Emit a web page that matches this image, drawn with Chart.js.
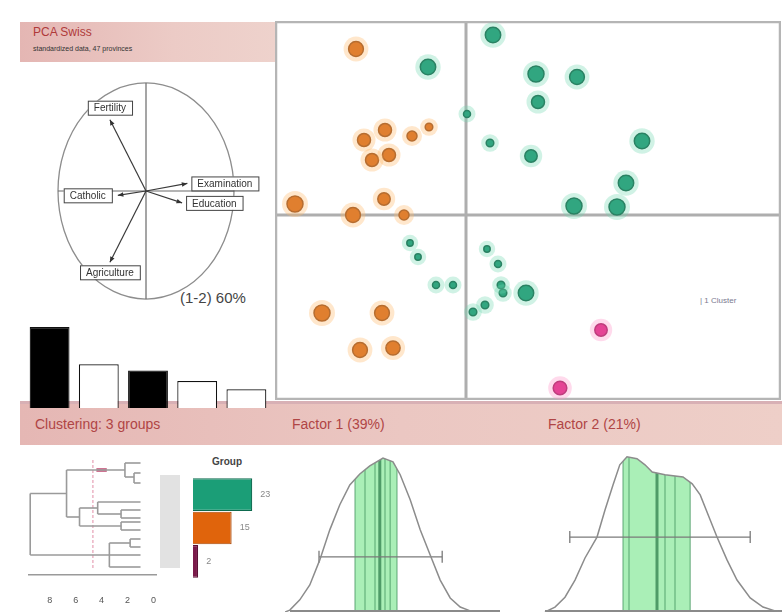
<!DOCTYPE html>
<html><head><meta charset="utf-8">
<script src="https://cdn.jsdelivr.net/npm/chart.js@4.4.1/dist/chart.umd.min.js"></script>
<style>
body{margin:0;background:#fff;width:782px;height:616px;position:relative;overflow:hidden;font-family:"Liberation Sans",Arial,sans-serif;}
canvas{position:absolute;}
.box{position:absolute;}
.t{position:absolute;white-space:nowrap;}
</style></head><body>
<div class="box" style="left:20px;top:22px;width:255px;height:40px;background:linear-gradient(to right,#e4b6b3,#eccbc6 60%,#eed2cc);"></div>
<div class="t" style="left:33px;top:25px;font-size:12px;color:#b03a3a;">PCA Swiss</div>
<div class="t" style="left:33px;top:45px;font-size:7px;color:#333;">standardized data, 47 provinces</div>
<div class="box" style="left:20px;top:401px;width:762px;height:44px;background:linear-gradient(to right,#e5b7b4,#ebc7c2 50%,#eecfc8);border-top:3px solid #d8b0b5;box-sizing:border-box;"></div>
<div class="t" style="left:35px;top:416px;font-size:14px;color:#b04545;">Clustering: 3 groups</div>
<div class="t" style="left:292px;top:416px;font-size:14px;color:#b04545;">Factor 1 (39%)</div>
<div class="t" style="left:548px;top:416px;font-size:14px;color:#b04545;">Factor 2 (21%)</div>
<div class="t" style="left:180px;top:289px;font-size:15px;color:#444;">(1-2) 60%</div>
<div class="t" style="left:212px;top:456px;font-size:10px;font-weight:bold;color:#444;">Group</div>
<div class="t" style="left:700px;top:296px;font-size:8px;color:#7a7a90;">| 1 Cluster</div>
<div class="box" style="left:160px;top:475px;width:20px;height:93px;background:#e2e2e2;"></div>

<canvas id="scatter" width="506" height="379" style="left:275px;top:21px"></canvas>
<canvas id="circle" width="264" height="242" style="left:14px;top:70px"></canvas>
<canvas id="scree" width="246" height="90" style="left:25px;top:318px"></canvas>
<canvas id="dendro" width="148" height="150" style="left:28px;top:460px"></canvas>
<canvas id="groups" width="85" height="100" style="left:193px;top:478px"></canvas>
<canvas id="dens1" width="215" height="162" style="left:285px;top:450px"></canvas>
<canvas id="dens2" width="242" height="162" style="left:540px;top:450px"></canvas>

<script>
// ---------------- DATA ----------------
const screeLabels = ['F1','F2','F3','F4','F5'];
const screeValues = [39, 21, 18, 13, 9];

const variables = ['Fertility','Catholic','Examination','Education','Agriculture'];
const loadX = [-0.41, -0.32, 0.47, 0.41, -0.41];
const loadY = [0.66, -0.04, 0.07, -0.11, -0.66];

// individuals: factor scores and representation quality (cos2)
const greenX = [0.54,-0.76,1.40,2.22,1.44,0.02,0.48,1.30,3.52,3.20,2.16,3.02,-1.12,-0.96,0.42,0.64,-0.60,-0.26,0.70,0.74,1.20,0.38,0.14];
const greenY = [3.60,2.96,2.82,2.76,2.26,2.02,1.44,1.18,1.48,0.64,0.18,0.16,-0.56,-0.84,-0.68,-0.98,-1.40,-1.40,-1.40,-1.56,-1.56,-1.80,-1.94];
const greenQ = [0.95,0.95,1.0,0.9,0.75,0.25,0.3,0.7,0.95,0.95,1.0,1.0,0.2,0.2,0.2,0.25,0.25,0.25,0.3,0.3,0.95,0.3,0.3];
const orangeX = [-2.20,-1.62,-2.04,-1.08,-0.74,-1.88,-1.54,-3.42,-2.26,-1.64,-1.24,-2.88,-1.68,-2.12,-1.46];
const orangeY = [3.32,1.70,1.50,1.58,1.76,1.10,1.20,0.22,0.00,0.32,0.00,-1.96,-1.96,-2.70,-2.66];
const orangeQ = [0.9,0.75,0.75,0.5,0.3,0.75,0.75,1.0,0.9,0.7,0.5,1.0,0.9,0.9,0.85];
const pinkX = [2.70, 1.88];
const pinkY = [-2.30, -3.46];
const pinkQ = [0.7, 0.8];

const groupNames = ['Group 1','Group 2','Group 3'];
const groupCounts = [23, 15, 2];

// dendrogram segments [height1, leaf1, height2, leaf2]
const dendroSegs = [
 [9.5,6.7,9.5,19],[9.5,6.7,6.7,6.7],[6.7,2,6.7,11.4],
 [6.7,2,2.2,2],[2.2,0.6,2.2,3.4],[2.2,0.6,1,0.6],[2.2,3.4,1.5,3.4],[1.5,2.6,1.5,4.6],[1.5,2.6,1,2.6],[1.5,4.6,1,4.6],
 [6.7,11.4,5.7,11.4],[5.7,9.6,5.7,13.2],[5.7,9.6,4.3,9.6],[4.3,8.4,4.3,10.8],[4.3,8.4,1,8.4],[4.3,10.8,2.5,10.8],
 [2.5,10,2.5,11.6],[2.5,10,1,10],[2.5,11.6,1,11.6],[5.7,13.2,2.5,13.2],[2.5,12.4,2.5,14],[2.5,12.4,1,12.4],[2.5,14,1,14],
 [9.5,19,3.4,19],[3.4,16.6,3.4,21.4],[3.4,16.6,1.8,16.6],[1.8,15.8,1.8,17.4],[1.8,15.8,1,15.8],[1.8,17.4,1,17.4],
 [3.4,21.4,1,21.4],[3.4,19,1,19]
];
const cutHeight = 4.67;

// kernel densities of factor scores
const dens1X = [-2.45,-2.33,-2.08,-1.83,-1.58,-1.33,-1.08,-0.83,-0.58,-0.33,0,0.25,0.43,0.68,0.93,1.18,1.43,1.68,1.93,2.18,2.93];
const dens1Y = [0,0.005,0.032,0.071,0.137,0.216,0.282,0.334,0.363,0.384,0.405,0.395,0.361,0.295,0.216,0.150,0.084,0.037,0.013,0.003,0];
const band1 = [-0.70, 0.35];
const rug1 = [-0.70,-0.45,-0.20,0.05,0.18,0.35];
const mean1 = -0.08;
const interval1 = [-1.60, 1.48];
const intervalLevel1 = 0.145;

const dens2X = [-2.05,-1.8,-1.55,-1.3,-1.05,-0.75,-0.55,-0.35,-0.18,0,0.25,0.45,0.63,0.95,1.4,1.63,1.83,2.08,2.25,2.5,2.75,3.08,3.4,3.7,3.83];
const dens2Y = [0,0.013,0.039,0.084,0.142,0.197,0.268,0.334,0.387,0.408,0.403,0.387,0.368,0.361,0.355,0.337,0.308,0.242,0.197,0.137,0.084,0.037,0.013,0.003,0];
const band2 = [-0.10, 1.58];
const rug2 = [-0.10,0.05,0.95,1.2,1.58];
const mean2 = 0.75;
const interval2 = [-1.43, 3.08];
const intervalLevel2 = 0.197;

// ---------------- CHARTS ----------------
Chart.defaults.font.family = '"Liberation Sans", Arial, sans-serif';
Chart.defaults.animation = false;
const base = {responsive:false, devicePixelRatio:1, animation:false,
  layout:{padding:0, autoPadding:false}, plugins:{legend:{display:false}, tooltip:{enabled:false}, title:{display:false}}};
function opts(extra){ return Object.assign({}, base, extra, {plugins:Object.assign({}, base.plugins, (extra||{}).plugins||{})}); }

// ---- scatter (individuals) ----
const rad = q => 2 + 6*q;
function groupSets(xs, ys, qs, fill, border, halo){
  const data = xs.map((v,i)=>({x:v, y:ys[i]}));
  return [
    {data, pointRadius: qs.map(q=>rad(q)+5), pointBackgroundColor: halo, pointBorderWidth:0, showLine:false, clip:false},
    {data, pointRadius: qs.map(rad), pointBackgroundColor: fill, pointBorderColor: border, pointBorderWidth:1.5, showLine:false, clip:false}
  ];
}
const scatterDeco = {id:'scatterDeco', beforeDatasetsDraw(c){
  const {ctx, chartArea:a, scales:{x,y}} = c;
  ctx.save();
  const x0=x.getPixelForValue(0), y0=y.getPixelForValue(0);
  ctx.strokeStyle='#aeaeae'; ctx.lineWidth=3;
  ctx.beginPath(); ctx.moveTo(x0,a.top); ctx.lineTo(x0,a.bottom); ctx.moveTo(a.left,y0); ctx.lineTo(a.right,y0); ctx.stroke();
  ctx.strokeStyle='#b5b5b5'; ctx.lineWidth=2.5; ctx.strokeRect(a.left+1,a.top+1,a.width-2,a.height-2);
  ctx.restore();
}};
new Chart(document.getElementById('scatter'), {
  type:'scatter',
  data:{datasets:[
    ...groupSets(pinkX,pinkY,pinkQ,'#d8187a','#9c0f55','rgba(255,150,200,0.35)'),
    ...groupSets(orangeX,orangeY,orangeQ,'#d0600e','#8f4410','rgba(255,185,110,0.35)'),
    ...groupSets(greenX,greenY,greenQ,'#15906a','#0b5a40','rgba(110,215,175,0.32)')
  ]},
  options:opts({scales:{x:{display:false,min:-3.82,max:6.3},y:{display:false,min:-3.7,max:3.88}}}),
  plugins:[scatterDeco]
});

// ---- correlation circle ----
const circleDeco = {id:'circleDeco',
 beforeDatasetsDraw(c){
  const {ctx, scales:{x,y}} = c;
  const cx=x.getPixelForValue(0), cy=y.getPixelForValue(0);
  const rx=x.getPixelForValue(1)-cx, ry=cy-y.getPixelForValue(1);
  ctx.save(); ctx.strokeStyle='#8d8d8d'; ctx.lineWidth=1.3;
  ctx.beginPath(); ctx.ellipse(cx,cy,rx,ry,0,0,Math.PI*2); ctx.stroke();
  ctx.strokeStyle='#6a6a6a'; ctx.lineWidth=1.2;
  ctx.beginPath(); ctx.moveTo(cx,cy-ry); ctx.lineTo(cx,cy+ry); ctx.moveTo(cx-rx,cy); ctx.lineTo(cx+rx,cy); ctx.stroke();
  ctx.restore();
 },
 afterDatasetsDraw(c){
  const {ctx, scales:{x,y}} = c;
  const cx=x.getPixelForValue(0), cy=y.getPixelForValue(0);
  ctx.save();
  variables.forEach((name,i)=>{
    const lx=loadX[i], ly=loadY[i];
    const tx=x.getPixelForValue(lx), ty=y.getPixelForValue(ly);
    const ang=Math.atan2(ty-cy,tx-cx);
    ctx.fillStyle='#333';
    ctx.beginPath(); ctx.moveTo(tx,ty);
    ctx.lineTo(tx-6*Math.cos(ang-0.4), ty-6*Math.sin(ang-0.4));
    ctx.lineTo(tx-6*Math.cos(ang+0.4), ty-6*Math.sin(ang+0.4)); ctx.closePath(); ctx.fill();
    ctx.font='10px "Liberation Sans", Arial, sans-serif';
    const w=ctx.measureText(name).width+12, h=14;
    let bx,by;
    if(Math.abs(lx)>Math.abs(ly)){ by=ty-h/2; bx = lx<0 ? tx-6-w : tx+4; }
    else { bx=tx-w/2; by = ly>0 ? ty-5-h : ty+3; }
    ctx.fillStyle='#fff'; ctx.fillRect(bx,by,w,h);
    ctx.strokeStyle='#444'; ctx.lineWidth=1; ctx.strokeRect(bx+0.5,by+0.5,w,h);
    ctx.fillStyle='#333'; ctx.textBaseline='middle'; ctx.fillText(name,bx+6,by+h/2+1);
  });
  ctx.restore();
 }};
new Chart(document.getElementById('circle'), {
  type:'scatter',
  data:{datasets: variables.map((v,i)=>({data:[{x:0,y:0},{x:loadX[i],y:loadY[i]}], showLine:true, borderColor:'#3a3a3a', borderWidth:1.2, pointRadius:0}))},
  options:opts({scales:{x:{display:false,min:-1.5,max:1.5},y:{display:false,min:-1.12,max:1.12}}}),
  plugins:[circleDeco]
});

// ---- scree ----
new Chart(document.getElementById('scree'), {
  type:'bar',
  data:{labels:screeLabels, datasets:[{data:screeValues,
    backgroundColor:screeValues.map((v,i)=>[0,2].includes(i)?'#000':'#fff'),
    borderColor:'#111', borderWidth:1.2, barPercentage:0.81, categoryPercentage:1}]},
  options:opts({scales:{x:{display:false},y:{display:false,min:0,max:43.3}}})
});

// ---- dendrogram ----
const dendroDS = dendroSegs.map(s=>({data:[{x:s[0],y:s[1]},{x:s[2],y:s[3]}], showLine:true, borderColor:'#9a9a9a', borderWidth:1.6, pointRadius:0}));
dendroDS.push({data:[{x:cutHeight,y:0},{x:cutHeight,y:22}], showLine:true, borderColor:'rgba(220,120,150,0.7)', borderWidth:1.2, borderDash:[3,2], pointRadius:0});
dendroDS.push({data:[{x:4.4,y:2},{x:3.6,y:2}], showLine:true, borderColor:'rgba(190,70,110,0.75)', borderWidth:4, pointRadius:0});
new Chart(document.getElementById('dendro'), {
  type:'scatter',
  data:{datasets:dendroDS},
  options:opts({scales:{
    x:{reverse:true,min:-0.2,max:9.67,grid:{display:false,drawTicks:false},border:{color:'#9a9a9a',width:1.5},
       ticks:{stepSize:2,includeBounds:false,padding:20,font:{size:9},color:'#555'},afterFit:s=>{s.height=35;}},
    y:{display:false,reverse:true,min:0,max:23}}})
});

// ---- group sizes ----
const groupLabelPlugin = {id:'gl', afterDatasetsDraw(c){
  const {ctx}=c; const meta=c.getDatasetMeta(0);
  ctx.save(); ctx.font='9px "Liberation Sans", Arial'; ctx.fillStyle='#888'; ctx.textBaseline='middle';
  meta.data.forEach((b,i)=>ctx.fillText(String(groupCounts[i]), b.x+8, b.y));
  ctx.restore();
}};
new Chart(document.getElementById('groups'), {
  type:'bar',
  data:{labels:groupNames, datasets:[{data:groupCounts,
    backgroundColor:['#1b9e77','#e0640c','#7a1a4a'], borderColor:['#0d6a4e','#a84a0a','#5a1035'], borderWidth:1.2,
    barPercentage:0.98, categoryPercentage:1}]},
  options:opts({indexAxis:'y', scales:{x:{display:false,min:0,max:33},y:{display:false}}}),
  plugins:[groupLabelPlugin]
});

// ---- densities ----
const densDeco = {id:'densDeco', beforeDatasetsDraw(c, args, o){
  const {ctx, chartArea:a, scales:{x,y}} = c;
  const pts=c.getDatasetMeta(0).data;
  const b=y.getPixelForValue(0);
  ctx.save();
  const path=new Path2D(); path.moveTo(pts[0].x,b); pts.forEach(p=>path.lineTo(p.x,p.y)); path.lineTo(pts[pts.length-1].x,b); path.closePath();
  ctx.clip(path);
  const bl=x.getPixelForValue(o.band[0]), br=x.getPixelForValue(o.band[1]);
  ctx.fillStyle='rgba(155,236,170,0.85)'; ctx.fillRect(bl,a.top,br-bl,a.height);
  ctx.strokeStyle='rgba(70,150,95,0.55)'; ctx.lineWidth=1.5;
  o.rug.forEach(v=>{const px=x.getPixelForValue(v); ctx.beginPath(); ctx.moveTo(px,a.top); ctx.lineTo(px,b); ctx.stroke();});
  ctx.strokeStyle='#4f9b68'; ctx.lineWidth=3;
  const mx=x.getPixelForValue(o.mean); ctx.beginPath(); ctx.moveTo(mx,a.top); ctx.lineTo(mx,b); ctx.stroke();
  ctx.restore();
  ctx.save(); ctx.strokeStyle='#8a8a8a'; ctx.lineWidth=2;
  ctx.beginPath(); ctx.moveTo(a.left+5,b-1); ctx.lineTo(a.right,b-1); ctx.stroke(); ctx.restore();
}};
function densChart(id, xs, ys, band, rug, mean, interval, lvl, xmin, xmax){
  new Chart(document.getElementById(id), {
    type:'scatter',
    data:{datasets:[
      {data:xs.map((v,i)=>({x:v,y:ys[i]})), showLine:true, borderColor:'#8c8c8c', borderWidth:1.5, pointRadius:0, tension:0, clip:false},
      {data:[{x:interval[0],y:lvl},{x:interval[1],y:lvl}], showLine:true, borderColor:'#7a7a7a', borderWidth:1.3,
       pointStyle:'line', rotation:90, pointRadius:6, pointBorderColor:'#7a7a7a', pointBorderWidth:1.3}
    ]},
    options:opts({scales:{x:{display:false,min:xmin,max:xmax},y:{display:false,min:0,max:0.426}},
      plugins:{densDeco:{band, rug, mean}}}),
    plugins:[densDeco]
  });
}
densChart('dens1', dens1X, dens1Y, band1, rug1, mean1, interval1, intervalLevel1, -2.45, 2.925);
densChart('dens2', dens2X, dens2Y, band2, rug2, mean2, interval2, intervalLevel2, -2.175, 3.875);
</script>
</body></html>
